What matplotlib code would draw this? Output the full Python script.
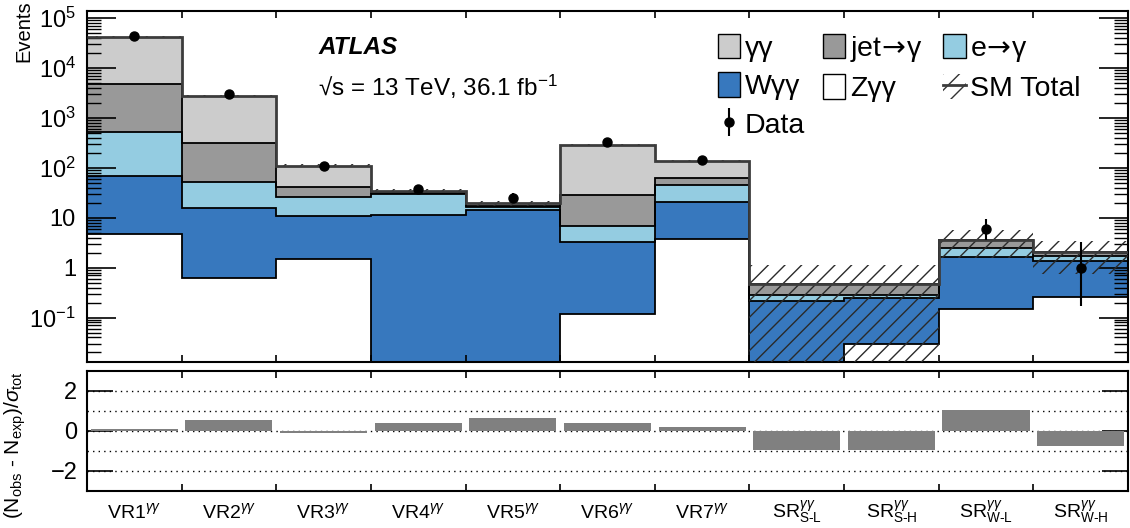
import numpy as np
import matplotlib
matplotlib.use("Agg")
import matplotlib.pyplot as plt
from matplotlib.patches import Patch
from matplotlib.lines import Line2D
from matplotlib.ticker import LogLocator, FuncFormatter, NullFormatter

plt.rcParams['font.family'] = ['Liberation Sans', 'DejaVu Sans']
plt.rcParams['mathtext.fontset'] = 'custom'
plt.rcParams['mathtext.rm'] = 'Liberation Sans'
plt.rcParams['mathtext.it'] = 'Liberation Sans:italic'
plt.rcParams['mathtext.bf'] = 'Liberation Sans:bold'
plt.rcParams['mathtext.sf'] = 'Liberation Sans'
plt.rcParams['hatch.linewidth'] = 1.0

# ---------------- data ----------------
region_labels = [r"VR1$^{\gamma\gamma}$", r"VR2$^{\gamma\gamma}$", r"VR3$^{\gamma\gamma}$",
                 r"VR4$^{\gamma\gamma}$", r"VR5$^{\gamma\gamma}$", r"VR6$^{\gamma\gamma}$",
                 r"VR7$^{\gamma\gamma}$",
                 r"SR$^{\gamma\gamma}_{\mathrm{S\text{-}L}}$", r"SR$^{\gamma\gamma}_{\mathrm{S\text{-}H}}$",
                 r"SR$^{\gamma\gamma}_{\mathrm{W\text{-}L}}$", r"SR$^{\gamma\gamma}_{\mathrm{W\text{-}H}}$"]

z_gg     = [4.67, 0.61, 1.49, 0.0, 0.0, 0.118, 3.71, 0.0, 0.030, 0.147, 0.262]
w_gg     = [65.1, 15.3, 9.5, 11.4, 14.3, 3.11, 17.3, 0.22, 0.213, 1.51, 1.10]
e_fake   = [447.0, 37.1, 15.5, 18.2, 1.9, 3.62, 24.0, 0.07, 0.047, 0.79, 0.35]
jet_fake = [4283.0, 267.0, 14.3, 1.4, 1.3, 21.75, 17.0, 0.18, 0.18, 1.14, 0.38]
gg       = [37800.0, 2440.0, 70.2, 3.4, 2.0, 259.4, 75.0, 0.0, 0.0, 0.0, 0.0]
sm_err   = [800.0, 60.0, 6.0, 2.5, 2.5, 12.0, 7.0, 0.66, 0.66, 2.0, 1.35]

data        = [43600, 3070, 110, 38, 25, 330, 144, 0, 0, 6, 1]
data_err_lo = [209, 55, 10.5, 6.1, 4.9, 18, 12, 0, 0, 2.38, 0.83]
data_err_hi = [210, 56, 11.5, 7.2, 6.0, 19, 13, 0, 0, 3.58, 2.30]

significance = [0.10, 0.56, -0.08, 0.38, 0.63, 0.38, 0.18, -0.95, -0.95, 1.03, -0.75]

# ---------------- style ----------------
c_gg, c_jet, c_e, c_w, c_z = '#cccccc', '#999999', '#94cce1', '#3778be', 'white'
c_total = '#3c3c3c'

n = len(region_labels)
edges = np.arange(n + 1)
centers = edges[:-1] + 0.5
floor = 1e-4

fig = plt.figure(figsize=(11.3, 5.28), dpi=100)
ax = fig.add_axes([0.0770, 0.3144, 0.9212, 0.6648])
ax2 = fig.add_axes([0.0770, 0.0701, 0.9212, 0.2273])

# stacked histogram
comps = [z_gg, w_gg, e_fake, jet_fake, gg]
colors = [c_z, c_w, c_e, c_jet, c_gg]
cum = np.zeros(n)
tops = []
for vals, col in zip(comps, colors):
    top = cum + np.asarray(vals, float)
    ax.stairs(np.maximum(top, floor), edges, baseline=np.maximum(cum, floor),
              fill=True, color=col, lw=0, zorder=1)
    tops.append(top)
    cum = top
total = cum
for top in tops[:-1]:
    ax.stairs(np.maximum(top, floor), edges, baseline=None, color='black', lw=1.3, zorder=2)

# uncertainty band
err = np.asarray(sm_err)
ax.stairs(total + err, edges, baseline=np.maximum(total - err, floor), fill=True,
          facecolor='none', edgecolor='#2a2a2a', lw=0, hatch='//', zorder=3)
ax.stairs(total, edges, baseline=None, color=c_total, lw=2.0, zorder=4)

# data
d = np.asarray(data, float)
m = d > 0
cont = ax.errorbar(centers[m], d[m],
                   yerr=[np.asarray(data_err_lo)[m], np.asarray(data_err_hi)[m]],
                   fmt='o', color='black', ms=6.5, elinewidth=1.5, capsize=0, zorder=5)

ax.set_yscale('log')
ax.set_xlim(0, n)
ax.set_ylim(0.0129, 1.39e5)
ax.yaxis.set_major_locator(LogLocator(base=10, numticks=20))
ax.yaxis.set_minor_locator(LogLocator(base=10, subs=np.arange(2, 10), numticks=20))


def yfmt(v, pos):
    e = int(round(np.log10(v)))
    if e == 0:
        return '1'
    if e == 1:
        return '10'
    return r'$10^{%d}$' % e


ax.yaxis.set_major_formatter(FuncFormatter(yfmt))
ax.yaxis.set_minor_formatter(NullFormatter())
ax.set_xticks(edges[1:-1])
ax.set_xticklabels([])
ax.tick_params(axis='x', which='major', direction='in', length=5, width=1.2, top=True, bottom=True)
ax.tick_params(axis='y', which='major', direction='in', length=21, width=1.2, left=True, right=True,
               labelsize=17, pad=8)
ax.tick_params(axis='y', which='minor', direction='in', length=10, width=1.0, left=True, right=True)
for s in ax.spines.values():
    s.set_linewidth(1.5)
ax.set_ylabel('Events', fontsize=14.5, loc='top')
ax.yaxis.set_label_coords(-0.052, 1.03)

ax.text(0.222, 0.897, 'ATLAS', transform=ax.transAxes, fontsize=17.5, fontweight='bold',
        fontstyle='italic', va='center', ha='left')
ax.text(0.222, 0.783, '√s = 13 TeV, 36.1 fb$^{-1}$', transform=ax.transAxes, fontsize=17.5,
        va='center', ha='left')

# legends
def pat(c):
    return Patch(facecolor=c, edgecolor='black', lw=1.0)

sm_handle = (Patch(facecolor='none', edgecolor='#333333', hatch='//', lw=0),
             Line2D([], [], color=c_total, lw=2.0))
leg_kw = dict(frameon=False, fontsize=20.5, handlelength=0.8, handleheight=0.95,
              handletextpad=0.15, labelspacing=0.37, borderpad=0, borderaxespad=0, loc='upper left')
l1 = ax.legend([pat(c_gg), pat(c_w), cont], ['γγ', 'Wγγ', 'Data'],
               bbox_to_anchor=(0.6058, 0.935), **leg_kw)
ax.add_artist(l1)
l2 = ax.legend([pat(c_jet), pat(c_z)], [r'jet$\!\rightarrow\!$γ', 'Zγγ'],
               bbox_to_anchor=(0.7067, 0.935), **leg_kw)
ax.add_artist(l2)
l3 = ax.legend([pat(c_e), sm_handle], [r'e$\!\rightarrow\!$γ', 'SM Total'],
               bbox_to_anchor=(0.8221, 0.935), **leg_kw)
for lg in (l2, l3):
    for t in lg.get_texts():
        t.set_math_fontfamily('dejavusans')

# significance panel
for v in [-2, -1, 0, 1, 2]:
    ax2.axhline(v, color='black', ls=(0, (1, 3)), lw=1.0, zorder=1)
ax2.bar(centers, significance, width=0.92, color='#808080', zorder=2)
ax2.set_xlim(0, n)
ax2.set_ylim(-3, 3)
ax2.set_yticks([-2, 0, 2])
ax2.set_yticklabels(['\u22122', '0', '2'])
ax2.set_xticks(centers)
ax2.set_xticklabels(region_labels, fontsize=14)
for lbl in ax2.get_xticklabels():
    lbl.set_verticalalignment('baseline')
ax2.set_xticks(edges[1:-1], minor=True)
ax2.tick_params(axis='x', which='major', length=0, pad=19.5)
ax2.tick_params(axis='x', which='minor', direction='in', length=5, width=1.2, top=True, bottom=True)
ax2.tick_params(axis='y', which='major', direction='in', length=19, width=1.2, left=True, right=True,
                labelsize=17, pad=7)
for s in ax2.spines.values():
    s.set_linewidth(1.5)
ax2.set_ylabel(r'(N$_{\rm obs}$ - N$_{\rm exp}$)/$\sigma_{\rm tot}$', fontsize=15, loc='top')
ax2.yaxis.set_label_coords(-0.057, 1.0)

fig.savefig('out.png', dpi=100)
